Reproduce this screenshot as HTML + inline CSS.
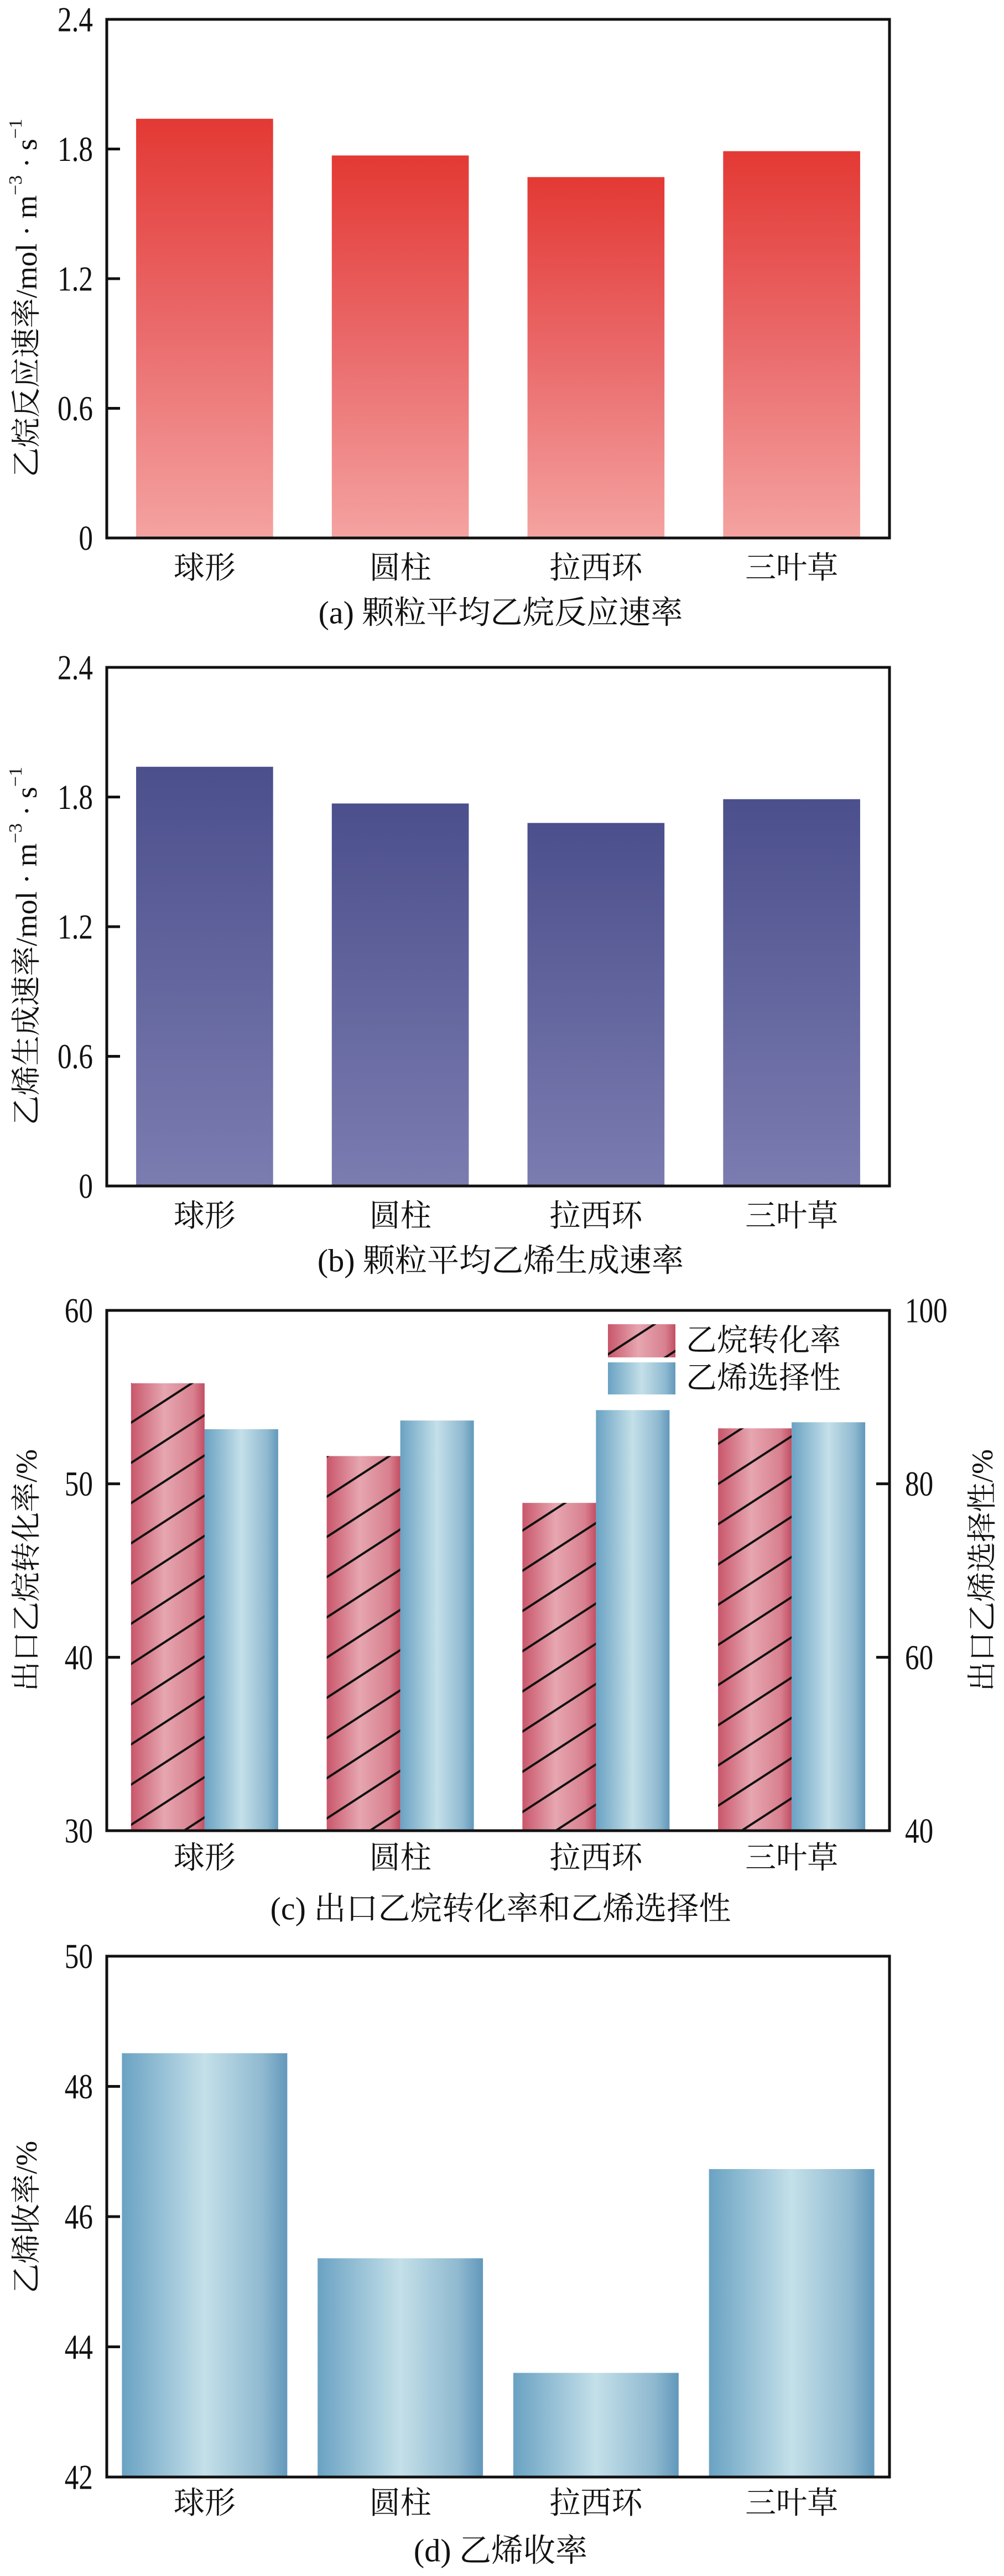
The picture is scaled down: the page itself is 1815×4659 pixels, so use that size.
<!DOCTYPE html>
<html><head><meta charset="utf-8"><style>
html,body{margin:0;padding:0;background:#fff;}
svg{display:block;}
text{font-family:"Liberation Serif","Noto Serif CJK SC","Noto Sans CJK SC",serif;fill:#111;}
</style></head><body>
<svg id="fig" width="1815" height="4659" viewBox="0 0 1815 4659" xmlns="http://www.w3.org/2000/svg">
<defs>
<linearGradient id="gRed" x1="0" y1="0" x2="0" y2="1"><stop offset="0" stop-color="#e33934"/><stop offset="0.5" stop-color="#ea6a6b"/><stop offset="1" stop-color="#f4a3a1"/></linearGradient>
<linearGradient id="gPur" x1="0" y1="0" x2="0" y2="1"><stop offset="0" stop-color="#4b4f8c"/><stop offset="1" stop-color="#7b7cb0"/></linearGradient>
<linearGradient id="gBlue" x1="0" y1="0" x2="1" y2="0"><stop offset="0" stop-color="#6aa2c3"/><stop offset="0.5" stop-color="#c4e0e9"/><stop offset="0.85" stop-color="#8fb9d0"/><stop offset="1" stop-color="#6298bb"/></linearGradient>
<linearGradient id="gPink" x1="0" y1="0" x2="1" y2="0"><stop offset="0" stop-color="#c9566b"/><stop offset="0.45" stop-color="#e6a6b0"/><stop offset="0.85" stop-color="#d8808f"/><stop offset="1" stop-color="#c24e63"/></linearGradient>
<pattern id="hatch" patternUnits="userSpaceOnUse" width="40" height="61" patternTransform="rotate(-33)"><line x1="0" y1="30" x2="40" y2="30" stroke="#111" stroke-width="4"/></pattern>
</defs>
<g id="root"></g>
</svg>
<script>
const categories = ["球形","圆柱","拉西环","三叶草"];
const rateA = [1.94, 1.77, 1.67, 1.79];
const rateB = [1.94, 1.77, 1.68, 1.79];
const ticksAB = [0, 0.6, 1.2, 1.8, 2.4];
const tickLabelsAB = ["0","0.6","1.2","1.8","2.4"];
const conversion = [55.8, 51.6, 48.9, 53.2];
const selectivity = [86.3, 87.3, 88.5, 87.1];
const ticksCL = [30, 40, 50, 60];
const ticksCR = [40, 60, 80, 100];
const yieldD = [48.51, 45.36, 43.6, 46.73];
const ticksD = [42, 44, 46, 48, 50];

const NS = "http://www.w3.org/2000/svg";
const root = document.getElementById('root');
function el(tag, attrs, parent) {
  const e = document.createElementNS(NS, tag);
  for (const k in attrs) e.setAttribute(k, attrs[k]);
  (parent || root).appendChild(e);
  return e;
}
function txt(str, x, y, size, anchor, parent, sx) {
  sx = sx || 1;
  const t = el('text', {x: x / sx, y: y, 'font-size': size, 'text-anchor': anchor || 'middle', 'dominant-baseline': 'central', transform: 'scale(' + sx + ',1)'}, parent);
  t.textContent = str;
  return t;
}
const L = 193, R = 1608;
const band = (R - L) / categories.length;
function cx(i) { return L + band * (i + 0.5); }

function frame(g, top, bot) {
  const r = el('rect', {x: L, y: top, width: R - L, height: bot - top, fill: 'none', stroke: '#111', 'stroke-width': 5}, g);
  
  
}
function leftTicks(g, vals, labels, yf, right) {
  vals.forEach((v, i) => {
    const y = yf(v);
    if (i > 0 && i < vals.length - 1) {
      const t = el('line', {x1: L, x2: L + 24, y1: y, y2: y, stroke: '#111', 'stroke-width': 5}, g);
      
      
    }
    const lab = txt(labels[i], 168, y, 64, 'end', g, 0.8);
    
    
  });
}
function catLabels(g, y) {
  categories.forEach((c, i) => {
    const t = txt(c, cx(i), y, 56, 'middle', g);
    
    
  });
}
function yTitle(g, str, x, y, name) {
  const t = el('text', {x: 0, y: 0, 'font-size': 54, 'text-anchor': 'middle', 'dominant-baseline': 'central', transform: 'translate(' + x + ',' + y + ') rotate(-90)'}, g);
  t.innerHTML = str;
  
  
}

// Panel a & b
function panelAB(top, bot, vals, fill, title, cap, key) {
  const g = el('g', {});
  
  
  const yf = v => bot - (v / 2.4) * (bot - top);
  const bw = band * 0.7;
  vals.forEach((v, i) => {
    const b = el('rect', {x: cx(i) - bw / 2, y: yf(v), width: bw, height: bot - yf(v), fill: fill}, g);
    
    
  });
  frame(g, top, bot);
  leftTicks(g, ticksAB, tickLabelsAB, yf);
  catLabels(g, bot + 55);
  const c = txt(cap, 905, bot + 135, 58, 'middle', g);
  
  
  yTitle(g, title, 48, (top + bot) / 2 + 35, 'y-axis-title');
}
panelAB(35, 973, rateA, 'url(#gRed)', '乙烷反应速率/mol · m<tspan dy="-20" font-size="34">−3</tspan><tspan dy="20"> · s</tspan><tspan dy="-20" font-size="34">−1</tspan>', '(a) 颗粒平均乙烷反应速率', 'a');
panelAB(1207, 2145, rateB, 'url(#gPur)', '乙烯生成速率/mol · m<tspan dy="-20" font-size="34">−3</tspan><tspan dy="20"> · s</tspan><tspan dy="-20" font-size="34">−1</tspan>', '(b) 颗粒平均乙烯生成速率', 'b');

// Panel c
(function () {
  const top = 2370, bot = 3311;
  const g = el('g', {});
  
  
  const yl = v => bot - (v - 30) / 30 * (bot - top);
  const yr = v => bot - (v - 40) / 60 * (bot - top);
  const bw = 133;
  conversion.forEach((v, i) => {
    const x = cx(i) - bw;
    const b = el('rect', {x: x, y: yl(v), width: bw, height: bot - yl(v), fill: 'url(#gPink)'}, g);
    
    
    const h = el('rect', {x: x, y: yl(v), width: bw, height: bot - yl(v), fill: 'url(#hatch)'}, g);
    
    
  });
  selectivity.forEach((v, i) => {
    const b = el('rect', {x: cx(i), y: yr(v), width: bw, height: bot - yr(v), fill: 'url(#gBlue)'}, g);
    
    
  });
  frame(g, top, bot);
  leftTicks(g, ticksCL, ticksCL.map(String), yl);
  ticksCR.forEach((v, i) => {
    const y = yr(v);
    if (i > 0 && i < ticksCR.length - 1) {
      const t = el('line', {x1: R - 24, x2: R, y1: y, y2: y, stroke: '#111', 'stroke-width': 5}, g);
      
      
    }
    const lab = txt(String(v), 1636, y, 64, 'start', g, 0.8);
    
    
  });
  // legend
  const lg = el('g', {}, g);
  
  
  const s1 = el('rect', {x: 1099, y: 2395, width: 122, height: 60, fill: 'url(#gPink)'}, lg);
  
  
  const s1h = el('rect', {x: 1099, y: 2395, width: 122, height: 60, fill: 'url(#hatch)'}, lg);
  
  
  const t1 = txt('乙烷转化率', 1240, 2425, 56, 'start', lg);
  
  
  const s2 = el('rect', {x: 1099, y: 2464, width: 122, height: 58, fill: 'url(#gBlue)'}, lg);
  
  
  const t2 = txt('乙烯选择性', 1240, 2493, 56, 'start', lg);
  
  
  catLabels(g, bot + 50);
  const c = txt('(c) 出口乙烷转化率和乙烯选择性', 905, 3452, 58, 'middle', g);
  
  
  yTitle(g, '出口乙烷转化率/%', 48, 2840, 'left-y-axis-title');
  const rt = el('text', {x: 0, y: 0, 'font-size': 54, 'text-anchor': 'middle', 'dominant-baseline': 'central', transform: 'translate(1776,2840) rotate(-90)'}, g);
  rt.textContent = '出口乙烯选择性/%';
  
  
})();

// Panel d
(function () {
  const top = 3538, bot = 4480;
  const g = el('g', {});
  
  
  const yf = v => bot - (v - 42) / 8 * (bot - top);
  const bw = band * 0.845;
  yieldD.forEach((v, i) => {
    const b = el('rect', {x: cx(i) - bw / 2, y: yf(v), width: bw, height: bot - yf(v), fill: 'url(#gBlue)'}, g);
    
    
  });
  frame(g, top, bot);
  leftTicks(g, ticksD, ticksD.map(String), yf);
  catLabels(g, 4528);
  const c = txt('(d) 乙烯收率', 905, 4613, 58, 'middle', g);
  
  
  yTitle(g, '乙烯收率/%', 48, 4010, 'y-axis-title');
})();
</script>
</body></html>
